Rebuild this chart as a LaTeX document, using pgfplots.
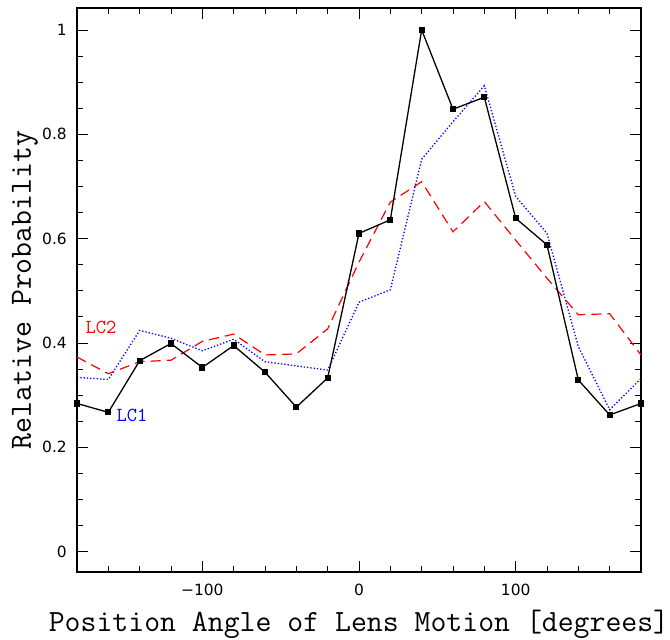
\documentclass[border=0pt]{standalone}
\usepackage{fontspec}
\setmainfont{DejaVu Sans}
\usepackage{pgfplots}
\pgfplotsset{compat=1.18}

\begin{document}
\begin{tikzpicture}
\begin{axis}[
  scale only axis, width=564bp, height=564bp,
  xmin=-180, xmax=180, ymin=-0.039, ymax=1.042,
  clip=false,
  xtick={-100,0,100}, xticklabels={−100,0,100},
  minor xtick={-180,-160,-140,-120,-80,-60,-40,-20,20,40,60,80,120,140,160,180},
  ytick={0,0.2,0.4,0.6,0.8,1}, yticklabels={0,0.2,0.4,0.6,0.8,1},
  minor ytick={0.05,0.1,0.15,0.25,0.3,0.35,0.45,0.5,0.55,0.65,0.7,0.75,0.85,0.9,0.95},
  tick align=inside, major tick length=11bp, minor tick length=6bp,
  tick style={black, line width=0.8bp},
  axis line style={line width=1.2bp},
  ticklabel style={font=\fontsize{15.5}{18}\selectfont, inner sep=0pt},
  yticklabel style={anchor=east, xshift=-10bp},
  xticklabel style={anchor=north, yshift=-12bp},
  xlabel={Position Angle of Lens Motion [degrees]},
  ylabel={Relative Probability},
  xlabel style={font=\ttfamily\fontsize{31}{36}\selectfont, at={(axis description cs:0.5,0)}, anchor=base, yshift=-60bp, inner sep=0pt},
  ylabel style={font=\ttfamily\fontsize{31}{36}\selectfont, at={(axis description cs:0,0.5)}, anchor=base, yshift=46bp, inner sep=0pt},
]
\addplot[blue, line width=1.3bp, dotted] coordinates {
(-180,0.334) (-160,0.330) (-140,0.424) (-120,0.409) (-100,0.385) (-80,0.407)
(-60,0.364) (-40,0.356) (-20,0.348) (0,0.478) (20,0.502) (40,0.752) (60,0.824)
(80,0.893) (100,0.681) (120,0.610) (140,0.393) (160,0.272) (180,0.332)
};
\addplot[red, line width=1.2bp, dash pattern=on 10bp off 6bp] coordinates {
(-180,0.373) (-160,0.341) (-140,0.364) (-120,0.367) (-100,0.403) (-80,0.417)
(-60,0.377) (-40,0.379) (-20,0.427) (0,0.555) (20,0.670) (40,0.709) (60,0.613)
(80,0.671) (100,0.597) (120,0.524) (140,0.454) (160,0.456) (180,0.377)
};
\addplot[black, line width=1.3bp, mark=square*, mark size=2.5bp] coordinates {
(-180,0.284) (-160,0.267) (-140,0.366) (-120,0.399) (-100,0.353) (-80,0.395)
(-60,0.344) (-40,0.277) (-20,0.333) (0,0.610) (20,0.636) (40,1.000) (60,0.848)
(80,0.871) (100,0.639) (120,0.588) (140,0.329) (160,0.262) (180,0.284)
};
\node[red, font=\ttfamily\fontsize{20}{22}\selectfont] at (axis cs:-164.7,0.430) {LC2};
\node[blue, font=\ttfamily\fontsize{20}{22}\selectfont] at (axis cs:-144.9,0.261) {LC1};
\end{axis}
\path (current axis.south west) ++(-77bp,-67bp) rectangle ([xshift=29bp,yshift=8bp]current axis.north east);
\end{tikzpicture}
\end{document}
